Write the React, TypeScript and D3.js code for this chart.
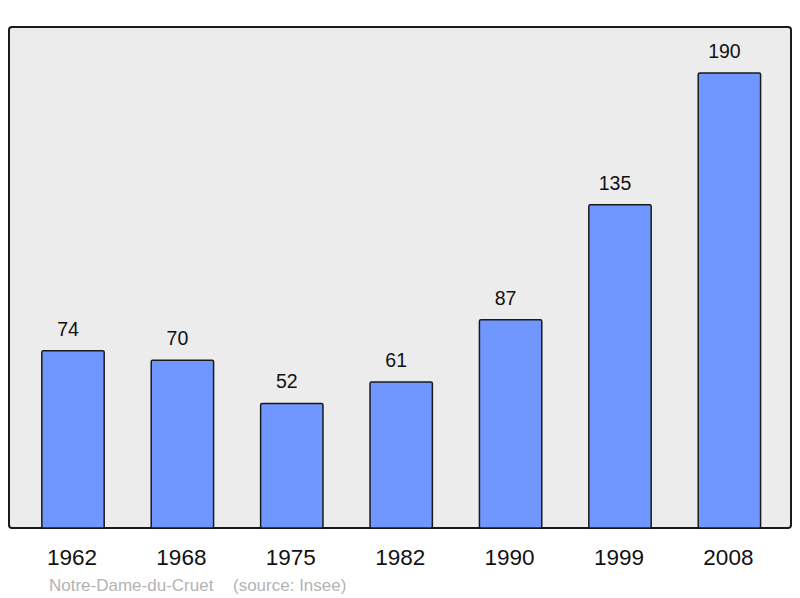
import { useEffect, useRef } from 'react';
import * as d3 from 'd3';

const years = ['1962', '1968', '1975', '1982', '1990', '1999', '2008'];
const population = [74, 70, 52, 61, 87, 135, 190];
const commune = 'Notre-Dame-du-Cruet';
const source = '(source: Insee)';

export default function App() {
  const ref = useRef<SVGSVGElement | null>(null);

  useEffect(() => {
    const svg = d3.select(ref.current);
    svg.selectAll('*').remove();

    const font = '"Liberation Sans", Arial, sans-serif';

    // panneau de fond
    svg.append('rect')
      .attr('x', 9)
      .attr('y', 27)
      .attr('width', 782)
      .attr('height', 501)
      .attr('rx', 3)
      .attr('fill', '#ececec')
      .attr('stroke', '#1a1a1a')
      .attr('stroke-width', 2);

    const x = d3.scaleBand<string>()
      .domain(years)
      .range([18.3, 784.1])
      .paddingInner(0.43)
      .paddingOuter(0.215);

    const y = d3.scaleLinear()
      .domain([0, 190])
      .range([528, 73]);

    const data = years.map((year, i) => ({ year, value: population[i] }));

    // barres
    svg.append('g')
      .selectAll('rect')
      .data(data)
      .enter().append('rect')
      .attr('x', d => x(d.year)!)
      .attr('y', d => y(d.value))
      .attr('width', x.bandwidth())
      .attr('height', d => y(0) - y(d.value))
      .attr('rx', 1.5)
      .attr('fill', '#7097ff')
      .attr('stroke', '#1a1a1a')
      .attr('stroke-width', 1.5);

    // valeurs (légèrement décalées à gauche comme l'original)
    svg.append('g')
      .attr('font-family', font)
      .attr('font-size', 19.5)
      .attr('text-anchor', 'middle')
      .selectAll('text')
      .data(data)
      .enter().append('text')
      .attr('x', d => x(d.year)! + x.bandwidth() / 2 - 5)
      .attr('y', d => y(d.value) - 15)
      .attr('fill', '#111')
      .text(d => d.value);

    // années
    svg.append('g')
      .attr('font-family', font)
      .attr('font-size', 22.5)
      .attr('text-anchor', 'middle')
      .selectAll('text')
      .data(years)
      .enter().append('text')
      .attr('x', d => x(d)! + x.bandwidth() / 2 - 1)
      .attr('y', 565)
      .attr('fill', '#111')
      .text(d => d);

    // pied de page
    const foot = svg.append('g')
      .attr('font-family', font)
      .attr('font-size', 17)
      .attr('fill', '#b3b3b3');
    foot.append('text').attr('x', 49).attr('y', 590.7).text(commune);
    foot.append('text').attr('x', 233).attr('y', 590.7).text(source);
  }, []);

  return (
    <svg
      ref={ref}
      width={800}
      height={598}
      style={{ position: 'absolute', left: 0, top: 0, background: '#fff' }}
    ></svg>
  );
}
